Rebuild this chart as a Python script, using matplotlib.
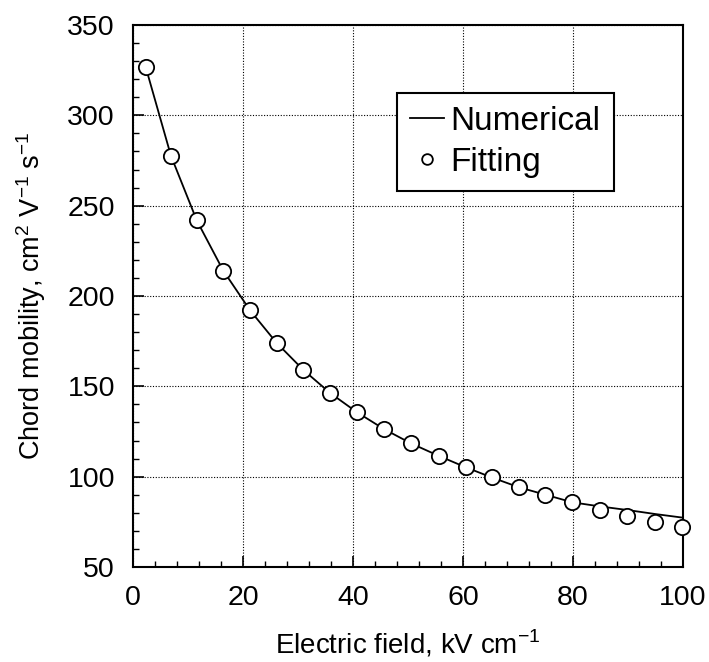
import numpy as np
import matplotlib.pyplot as plt
from matplotlib.ticker import MultipleLocator

# values
field_fit = [2.3, 6.9, 11.6, 16.4, 21.3, 26.1, 31.0, 35.8, 40.7, 45.6, 50.5,
             55.6, 60.5, 65.2, 70.2, 75.0, 79.9, 85.0, 89.9, 94.9, 99.9]
mob_fit = [326.8, 277.6, 241.8, 214.1, 192.0, 174.1, 159.0, 146.4, 135.7, 126.4, 118.5,
           111.5, 105.2, 99.6, 94.1, 90.0, 85.8, 81.8, 78.4, 75.1, 72.3]

field_num = [2.3, 6.9, 11.6, 16.4, 21.3, 26.1, 31.0, 35.8, 40.7, 45.6, 50.5,
             55.6, 60.5, 65.2, 70.2, 75.0, 79.9, 85.0, 90.0, 95.0, 100.0]
mob_num = [326.8, 277.6, 241.8, 214.1, 192.0, 174.1, 159.0, 146.4, 135.7, 126.4, 118.5,
           111.5, 105.2, 99.6, 94.1, 90.0, 85.8, 83.5, 81.5, 79.3, 77.3]

plt.rcParams['font.family'] = ['Liberation Sans', 'DejaVu Sans']
plt.rcParams['mathtext.fontset'] = 'custom'
plt.rcParams['mathtext.rm'] = 'Liberation Sans'

fig = plt.figure(figsize=(7.09, 6.62), dpi=100)
ax = fig.add_axes([0.1876, 0.1435, 0.7757, 0.8187])

ax.plot(field_num, mob_num, '-', color='black', lw=1.3, label='Numerical', zorder=3)
ax.plot(field_fit, mob_fit, 'o', mfc='white', mec='black', mew=1.3, ms=11,
        label='Fitting', zorder=4, clip_on=False)

ax.set_xlim(0, 100)
ax.set_ylim(50, 350)
ax.xaxis.set_major_locator(MultipleLocator(20))
ax.xaxis.set_minor_locator(MultipleLocator(4))
ax.yaxis.set_major_locator(MultipleLocator(50))
ax.yaxis.set_minor_locator(MultipleLocator(10))
ax.tick_params(which='both', direction='in', top=False, right=False, labelsize=20.5, pad=13)
ax.tick_params(which='major', length=8, width=1.2)
ax.tick_params(which='minor', length=4, width=1.0)
ax.grid(True, which='major', color='black', ls=(0, (1, 1.5)), lw=0.8)
for s in ax.spines.values():
    s.set_linewidth(1.5)

ax.set_xlabel('Electric field, kV cm$^{-1}$', size=20, labelpad=12)
ax.set_ylabel('Chord mobility, cm$^{2}$ V$^{-1}$ s$^{-1}$', size=19.5, labelpad=14)

leg = ax.legend(loc='upper left', bbox_to_anchor=(0.48, 0.875), fontsize=24,
                fancybox=False, framealpha=1, edgecolor='black',
                handlelength=1.0, handletextpad=0.2, borderpad=0.4,
                labelspacing=0.3, borderaxespad=0, markerscale=0.7)
leg.get_frame().set_linewidth(1.5)

fig.savefig('out.png', dpi=100)
